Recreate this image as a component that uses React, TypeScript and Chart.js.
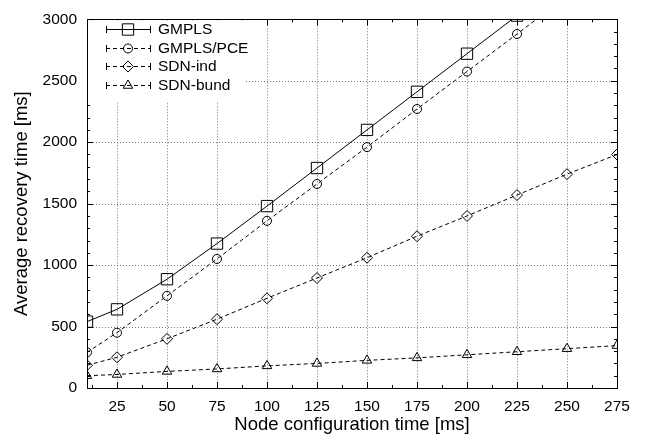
import React, { useEffect, useRef } from "react";
import { Chart, registerables } from "chart.js";

Chart.register(...registerables);

const nodeConfigTimes = [10, 25, 50, 75, 100, 125, 150, 175, 200, 225, 250, 275];
const gmpls = [540, 640, 885, 1175, 1480, 1790, 2100, 2410, 2720, 3030, 3340, 3650];
const gmplsPce = [290, 450, 750, 1050, 1360, 1660, 1960, 2270, 2575, 2880, 3190, 3500];
const sdnInd = [185, 250, 400, 560, 730, 895, 1060, 1235, 1400, 1570, 1740, 1900];
const sdnBund = [100, 110, 135, 155, 180, 200, 225, 245, 270, 295, 320, 345];
const xTickValues = [25, 50, 75, 100, 125, 150, 175, 200, 225, 250, 275];
const xMinorTicks = [12.5, 37.5, 62.5, 87.5, 112.5, 137.5, 162.5, 187.5, 212.5, 237.5, 262.5];
const yTickValues = [0, 500, 1000, 1500, 2000, 2500, 3000];
const seriesNames = ["GMPLS", "GMPLS/PCE", "SDN-ind", "SDN-bund"];

const FONT = "'Liberation Sans', Arial, Helvetica, sans-serif";

function drawMarker(ctx: CanvasRenderingContext2D, style: string, r: number, x: number, y: number) {
  ctx.beginPath();
  if (style === "rect") {
    const s = Math.SQRT1_2 * r;
    ctx.rect(x - s, y - s, 2 * s, 2 * s);
  } else if (style === "circle") {
    ctx.arc(x, y, r, 0, Math.PI * 2);
  } else if (style === "rectRot") {
    ctx.moveTo(x, y - r);
    ctx.lineTo(x + r, y);
    ctx.lineTo(x, y + r);
    ctx.lineTo(x - r, y);
    ctx.closePath();
  } else {
    const c = Math.cos(Math.PI / 6) * r;
    ctx.moveTo(x, y - r);
    ctx.lineTo(x + c, y + r / 2);
    ctx.lineTo(x - c, y + r / 2);
    ctx.closePath();
  }
  ctx.stroke();
}

const frameAndGrid = {
  id: "frameAndGrid",
  beforeDatasetsDraw(chart: any) {
    const { ctx, chartArea: a, scales } = chart;
    const xs = scales.x, ys = scales.y;
    ctx.save();
    ctx.strokeStyle = "#777";
    ctx.lineWidth = 1;
    ctx.setLineDash([1, 2]);
    ctx.beginPath();
    for (const v of xTickValues) {
      if (v >= 275) continue;
      const px = Math.round(xs.getPixelForValue(v)) + 0.5;
      ctx.moveTo(px, a.top);
      ctx.lineTo(px, a.bottom);
    }
    for (const v of yTickValues) {
      if (v <= 0 || v >= 3000) continue;
      const py = Math.round(ys.getPixelForValue(v)) + 0.5;
      ctx.moveTo(a.left, py);
      ctx.lineTo(a.right, py);
    }
    ctx.stroke();
    ctx.setLineDash([]);
    ctx.strokeStyle = "#000";
    ctx.beginPath();
    const major = 6, minor = 3;
    for (const v of xTickValues) {
      const px = Math.round(xs.getPixelForValue(v)) + 0.5;
      ctx.moveTo(px, a.bottom); ctx.lineTo(px, a.bottom - major);
      ctx.moveTo(px, a.top); ctx.lineTo(px, a.top + major);
    }
    for (const v of xMinorTicks) {
      const px = Math.round(xs.getPixelForValue(v)) + 0.5;
      ctx.moveTo(px, a.bottom); ctx.lineTo(px, a.bottom - minor);
      ctx.moveTo(px, a.top); ctx.lineTo(px, a.top + minor);
    }
    for (let v = 0; v <= 3000; v += 100) {
      const py = Math.round(ys.getPixelForValue(v)) + 0.5;
      const len = v % 500 === 0 ? major : minor;
      ctx.moveTo(a.left, py); ctx.lineTo(a.left + len, py);
      ctx.moveTo(a.right, py); ctx.lineTo(a.right - len, py);
    }
    ctx.stroke();
    ctx.restore();
  },
  afterDatasetsDraw(chart: any) {
    const { ctx, chartArea: a } = chart;
    ctx.save();
    ctx.fillStyle = "#fff";
    ctx.fillRect(a.left + 1, a.top + 1, 158, 81);
    const rowsY = [29, 47.5, 66, 84.5];
    const x0 = 106, x1 = 150, mx = 128;
    chart.data.datasets.forEach((ds: any, i: number) => {
      const y = Math.round(rowsY[i]) + 0.5;
      ctx.strokeStyle = "#000";
      ctx.lineWidth = 1;
      ctx.setLineDash(ds.borderDash || []);
      ctx.beginPath();
      ctx.moveTo(x0, y);
      ctx.lineTo(x1, y);
      ctx.stroke();
      ctx.setLineDash([]);
      ctx.beginPath();
      ctx.moveTo(x0 + 0.5, y - 3.5);
      ctx.lineTo(x0 + 0.5, y + 3.5);
      ctx.moveTo(x1 + 0.5, y - 3.5);
      ctx.lineTo(x1 + 0.5, y + 3.5);
      ctx.stroke();
      ctx.fillStyle = "#fff";
      drawMarker(ctx, ds.pointStyle, ds.pointRadius, mx, y);
      ctx.fillStyle = "#000";
      ctx.font = "15.5px " + FONT;
      ctx.textBaseline = "middle";
      ctx.textAlign = "left";
      ctx.fillText(ds.label, 158, y + 0.5);
    });
    ctx.strokeStyle = "#000";
    ctx.lineWidth = 1;
    ctx.strokeRect(Math.round(a.left) + 0.5, Math.round(a.top) + 0.5, Math.round(a.right - a.left), Math.round(a.bottom - a.top));
    ctx.restore();
  },
};

export default function App() {
  const ref = useRef<HTMLCanvasElement | null>(null);
  useEffect(() => {
    if (!ref.current) return;
    const mk = (label: string, data: number[], style: string, r: number, dash: number[]) => ({
      label,
      data: nodeConfigTimes.map((x, i) => ({ x, y: data[i] })),
      borderColor: "#000",
      backgroundColor: "rgba(0,0,0,0)",
      borderWidth: 1,
      borderDash: dash,
      pointStyle: style,
      pointRadius: r,
      pointBorderColor: "#000",
      pointBackgroundColor: "rgba(0,0,0,0)",
      pointBorderWidth: 1,
      tension: 0,
    });
    const chart = new Chart(ref.current, {
      type: "line",
      data: {
        datasets: [
          mk(seriesNames[0], gmpls, "rect", 8, []),
          mk(seriesNames[1], gmplsPce, "circle", 4.5, [4, 3]),
          mk(seriesNames[2], sdnInd, "rectRot", 5.5, [4, 3]),
          mk(seriesNames[3], sdnBund, "triangle", 5.5, [4, 3]),
        ] as any,
      },
      plugins: [frameAndGrid],
      options: {
        animation: false,
        responsive: true,
        maintainAspectRatio: false,
        layout: { padding: { top: 14, right: 29, left: 0, bottom: 0 } },
        plugins: { legend: { display: false }, tooltip: { enabled: false } },
        scales: {
          x: {
            type: "linear",
            min: 10,
            max: 275,
            grid: { display: false, drawTicks: false },
            border: { display: false },
            afterBuildTicks: (s: any) => {
              s.ticks = xTickValues.map((v) => ({ value: v }));
            },
            afterFit: (s: any) => {
              s.height = 53;
            },
            ticks: {
              color: "#000",
              font: { family: FONT, size: 15.5 },
              padding: 9,
              maxRotation: 0,
              autoSkip: false,
              callback: (v: any) => String(v),
            },
            title: {
              display: true,
              text: "Node configuration time [ms]",
              color: "#000",
              font: { family: FONT, size: 18.5 },
              padding: { top: 0, bottom: 4.5 },
            },
          },
          y: {
            type: "linear",
            min: 0,
            max: 3000,
            grid: { display: false, drawTicks: false },
            border: { display: false },
            afterBuildTicks: (s: any) => {
              s.ticks = yTickValues.map((v) => ({ value: v }));
            },
            afterFit: (s: any) => {
              s.width = 87;
            },
            ticks: {
              color: "#000",
              font: { family: FONT, size: 15.5 },
              padding: 10,
              callback: (v: any) => String(v),
            },
            title: {
              display: true,
              text: "Average recovery time [ms]",
              color: "#000",
              font: { family: FONT, size: 18.5 },
              padding: { top: 11, bottom: 0 },
            },
          },
        },
      } as any,
    });
    return () => chart.destroy();
  }, []);
  return (
    <div style={{ position: "fixed", left: 0, top: 0, width: 646, height: 441, background: "#fff" }}>
      <canvas ref={ref} />
    </div>
  );
}
